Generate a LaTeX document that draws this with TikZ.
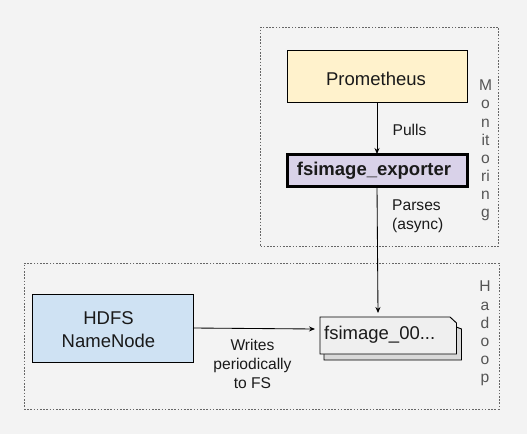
\documentclass[tikz,border=0pt]{standalone}
\usepackage{fontspec}
\setmainfont{Liberation Sans}
\usetikzlibrary{arrows.meta}
\definecolor{bg}{HTML}{F3F3F3}
\definecolor{ink}{HTML}{1A1A1A}
\definecolor{grouptext}{HTML}{555555}
\definecolor{promfill}{HTML}{FFF2CC}
\definecolor{expfill}{HTML}{D9D2E9}
\definecolor{hdfsfill}{HTML}{CFE2F3}
\definecolor{filefront}{HTML}{EFEFEF}
\definecolor{fileback}{HTML}{D9D9D9}
\tikzset{
  x=1pt,y=-1pt,
  groupbox/.style={draw=black!60,line width=0.75pt,dash pattern=on 1.6pt off 1.6pt,fill=none,inner sep=0pt,outer sep=0pt},
  mainbox/.style={draw=black,line width=0.85pt,inner sep=0pt,outer sep=0pt,align=center,text=ink,font=\fontsize{18.5}{23}\selectfont},
  lbl/.style={inner sep=0pt,align=center,text=ink,font=\fontsize{15.6}{18.8}\selectfont},
  vlabel/.style={inner sep=0pt,align=center,text=grouptext,font=\fontsize{15.6}{18.15}\selectfont},
  conn/.style={draw=black,line width=0.85pt,-{Stealth[length=6pt,width=5pt]}},
}
\newcommand{\shiftdown}[2]{\raisebox{-#1}[\height][\depth]{#2}}
\begin{document}
\begin{tikzpicture}
\fill[bg] (0,0) rectangle (527,434);
\useasboundingbox (0,0) rectangle (527,434);
\node[groupbox,minimum width=238pt,minimum height=219pt] (mon) at (379.5,136.5) {};
\node[groupbox,minimum width=475pt,minimum height=146pt] (had) at (261.5,336) {};
\node[mainbox,fill=promfill,minimum width=180pt,minimum height=52pt] (prom) at (377,76) {\shiftdown{3pt}{Prometheus}\hspace{2pt}};
\node[mainbox,fill=expfill,line width=3pt,minimum width=180pt,minimum height=32pt,font=\fontsize{18.5}{23}\selectfont\bfseries] (exp) at (377,170) {\shiftdown{1pt}{fsimage\_exporter}\hspace{6pt}};
\node[mainbox,fill=hdfsfill,minimum width=161pt,minimum height=68pt] (hdfs) at (112.5,328) {\shiftdown{3.5pt}{\begin{tabular}{@{}c@{}}HDFS\\NameNode\end{tabular}}\hspace{8pt}};
% stacked file
\filldraw[draw=black,line width=0.95pt,fill=fileback] (324,325) -- (451,325) -- (461.5,329) -- (461.5,360) -- (324,360) -- cycle;
\filldraw[draw=black,line width=0.95pt,fill=filefront] (320,317) -- (450,317) -- (456.5,323) -- (456.5,354) -- (320,354) -- cycle;
\node[inner sep=0pt,text=ink,font=\fontsize{18.5}{23}\selectfont,anchor=west] (file) at (324,335) {fsimage\_00...};
\coordinate (fileTop) at (378,313);
\coordinate (fileLeft) at (315,329);
\draw[conn] (prom.south) -- (exp.north);
\draw[conn] (exp.south) -- (fileTop);
\draw[conn] (hdfs.east) -- (fileLeft);
\node[lbl] (pulls) at (409.5,130) {Pulls};
\node[lbl,align=left,anchor=west] (parses) at (392,216.5) {Parses\\(async)};
\node[lbl] (writes) at (252.5,364) {Writes\\periodically\\to FS};
\node[vlabel] (monl) at (485.5,150.5) {M\\o\\n\\it\\o\\ri\\n\\g};
\node[vlabel] (hadl) at (485,333.5) {H\\a\\d\\o\\o\\p};
\end{tikzpicture}
\end{document}
